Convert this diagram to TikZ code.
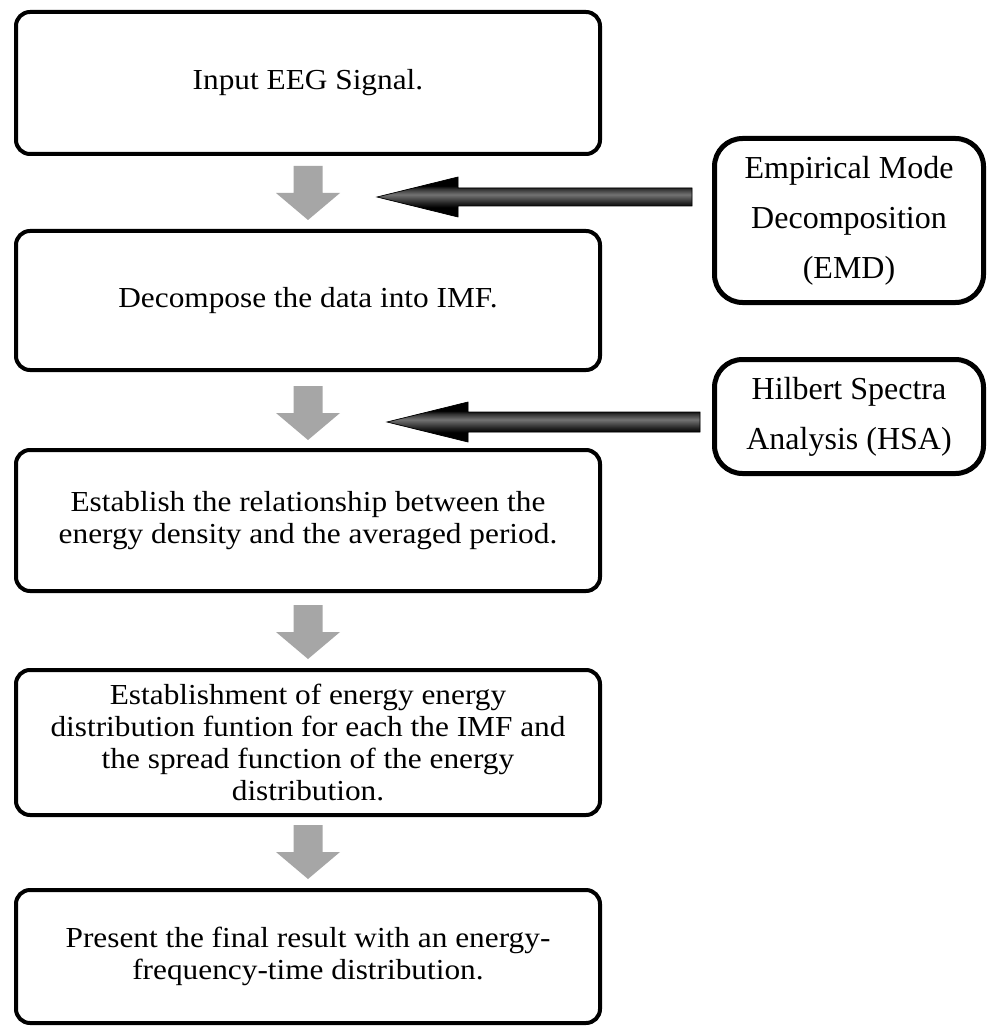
\documentclass[tikz,border=0pt]{standalone}
\usepackage{fontspec}
\setmainfont{Liberation Serif}[FakeStretch=1.08]
\newfontfamily\sidefont{Liberation Serif}
\usetikzlibrary{calc}

% metallic look for the side arrows (path box spans 25bp..75bp)
\pgfdeclareverticalshading{metalbar}{100bp}{color(0bp)=(black); color(37bp)=(black);
  color(43bp)=(black!85); color(53bp)=(black!55); color(60bp)=(black!80);
  color(64bp)=(black); color(100bp)=(black)}

% wide grey arrow pointing down: #1 top of shaft, #2 tip
\newcommand\flowarrow[2]{%
  \fill[flowgray] let \p1=(#1), \p2=(#2) in
    (\x1-14.5pt,\y1) -- (\x1+14.5pt,\y1) -- (\x1+14.5pt,\y2+27pt) --
    (\x1+32pt,\y2+27pt) -- (\x1,\y2) -- (\x1-32pt,\y2+27pt) --
    (\x1-14.5pt,\y2+27pt) -- cycle;}

% block arrow pointing left: #1 tail, #2 tip, #3 shaft half width,
% #4 head half width, #5 head length, #6 path options
\newcommand\sidearrow[6]{%
  \path[#6] let \p1=(#1), \p2=(#2) in
    (\x1,\y1+#3) -- (\x2+#5,\y1+#3) -- (\x2+#5,\y1+#4) -- (\x2,\y1) --
    (\x2+#5,\y1-#4) -- (\x2+#5,\y1-#3) -- (\x1,\y1-#3) -- cycle;}

\begin{document}
\begin{tikzpicture}[x=1pt,y=-1pt,
  stepbox/.style={draw=black, line width=4pt, rounded corners=14pt,
    align=center, inner sep=0pt, minimum width=584pt,
    font=\fontsize{29}{32}\selectfont},
  sidebox/.style={draw=black, line width=5pt, rounded corners=28pt,
    align=center, inner sep=0pt, minimum width=269pt,
    font=\sidefont\fontsize{32}{50}\selectfont},
  flowgray/.style={fill=black!35},
  arrowshadow/.style={fill=black!40},
  arrowbody/.style={shading=metalbar, draw=black, line width=0.7pt},
]
\useasboundingbox[fill=white] (0,0) rectangle (990,1032);

% process steps
\node[stepbox, minimum height=142pt] (b1) at (308,83) {Input EEG Signal.};
\node[stepbox, minimum height=139pt] (b2) at (308,300.5) {Decompose the data into IMF.};
\node[stepbox, minimum height=141pt] (b3) at (308,520.5)
  {Establish the relationship between the\\energy density and the averaged period.};
\node[stepbox, minimum height=145pt] (b4) at (308,742.5)
  {Establishment of energy energy\\distribution funtion for each the IMF and\\the spread function of the energy\\distribution.};
\node[stepbox, minimum height=133pt] (b5) at (308,956.5)
  {Present the final result with an energy-\\frequency-time distribution.};

% methods
\node[sidebox, minimum height=164pt] (emd) at (849,220.5)
  {Empirical Mode\\Decomposition\\(EMD)};
\node[sidebox, minimum height=114pt] (hsa) at (849,416.5)
  {Hilbert Spectra\\Analysis (HSA)};

% flow between steps
\flowarrow{$(b1.south)+(0,10)$}{$(b2.north)+(0,-9)$}
\flowarrow{$(b2.south)+(0,14)$}{$(b3.north)+(0,-8)$}
\flowarrow{$(b3.south)+(0,12)$}{$(b4.north)+(0,-9)$}
\flowarrow{$(b4.south)+(0,8)$}{$(b5.north)+(0,-9)$}

% method arrows
\coordinate (t1) at (377,197);
\coordinate (s1) at ($(emd.west |- t1)+(-20,0)$);
\coordinate (t2) at (387,422);
\coordinate (s2) at ($(hsa.west |- t2)+(-12,0)$);
\begin{scope}[shift={(3,3)}]
  \sidearrow{s1}{t1}{9pt}{20pt}{81pt}{arrowshadow}
  \sidearrow{s2}{t2}{10pt}{20pt}{81pt}{arrowshadow}
\end{scope}
\sidearrow{s1}{t1}{9pt}{20pt}{81pt}{arrowbody}
\sidearrow{s2}{t2}{10pt}{20pt}{81pt}{arrowbody}
\end{tikzpicture}
\end{document}
